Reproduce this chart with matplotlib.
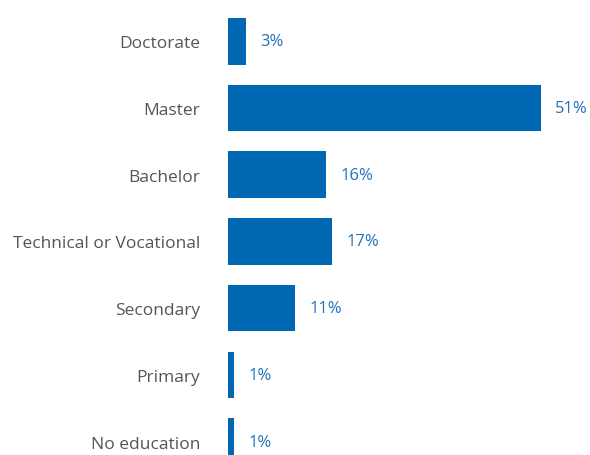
import matplotlib.pyplot as plt

categories = ['Doctorate', 'Master', 'Bachelor', 'Technical or Vocational',
              'Secondary', 'Primary', 'No education']
values = [3, 51, 16, 17, 11, 1, 1]

plt.rcParams['font.family'] = ['Open Sans', 'DejaVu Sans']

bar_color = '#0068b3'
label_color = '#1f72bd'
text_color = '#555555'

fig = plt.figure(figsize=(5.9, 4.56), dpi=100)
ax = fig.add_axes([228 / 590, 0, 362 / 590, 1])

pos = list(range(len(categories)))
ax.barh(pos, values, height=0.7, color=bar_color)

# value labels just right of each bar
for p, v in zip(pos, values):
    ax.text(v + 2.3, p, f'{v}%', va='center', ha='left',
            fontsize=12, color=label_color)

ax.set_xlim(0, 59)
ax.set_ylim(6 + 13.5 / 66.67, -42.5 / 66.67)
ax.set_yticks(pos)
ax.set_yticklabels(categories, fontsize=12.5, color=text_color)
ax.tick_params(axis='y', length=0, pad=20)
ax.set_xticks([])
for s in ax.spines.values():
    s.set_visible(False)

plt.savefig('out.png', dpi=100)
